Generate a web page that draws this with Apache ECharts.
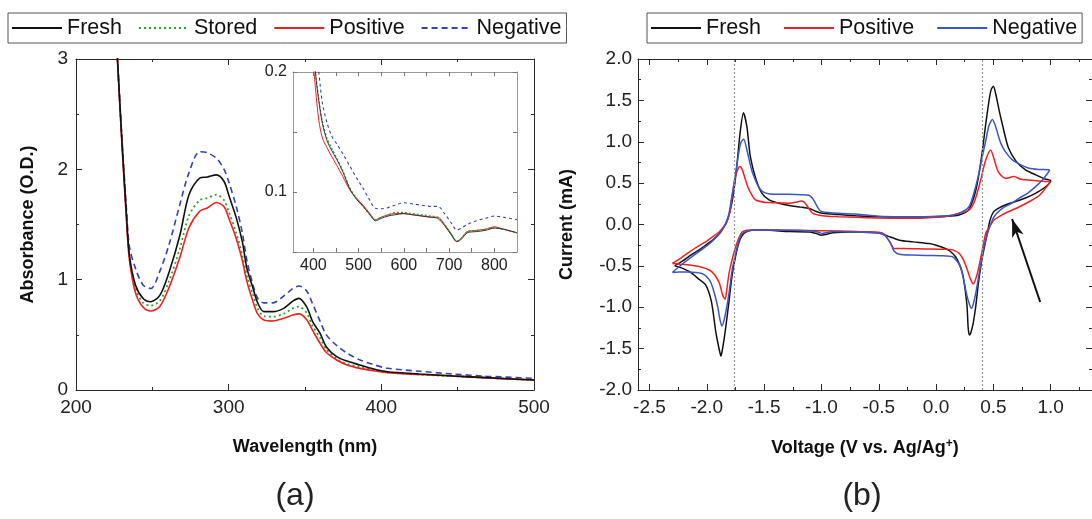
<!DOCTYPE html>
<html><head><meta charset="utf-8">
<script src="https://cdn.jsdelivr.net/npm/echarts@6/dist/echarts.min.js"></script>
<style>html,body{margin:0;padding:0;background:#fff}#c{width:1092px;height:519px}</style>
</head><body><div id="c"></div>
<script>
// ---------- Panel (a): UV-vis absorbance ----------
const wavelength = [227,230,233,235,239,244,249,255,261,268,274,281,286,292,297,300,305,309,312,316,319,323,329,336,342,346,351,355,360,364,371,378,386,395,404,425,447,469,500];
const absFresh    = [3.04,2.28,1.60,1.22,0.95,0.83,0.80,0.86,1.07,1.40,1.77,1.92,1.93,1.95,1.89,1.77,1.56,1.34,1.10,0.92,0.79,0.71,0.71,0.74,0.805,0.83,0.755,0.62,0.51,0.39,0.30,0.26,0.227,0.19,0.166,0.145,0.127,0.112,0.09];
const absStored   = [3.04,2.28,1.60,1.20,0.92,0.79,0.765,0.81,0.99,1.28,1.58,1.72,1.74,1.77,1.72,1.62,1.42,1.22,1.03,0.86,0.74,0.67,0.665,0.69,0.74,0.755,0.70,0.58,0.47,0.37,0.28,0.235,0.21,0.18,0.16,0.14,0.125,0.11,0.09];
const absPositive = [3.04,2.25,1.55,1.18,0.88,0.75,0.716,0.76,0.93,1.20,1.47,1.62,1.65,1.70,1.66,1.56,1.37,1.17,0.98,0.80,0.69,0.635,0.626,0.65,0.68,0.69,0.64,0.54,0.42,0.34,0.27,0.225,0.196,0.175,0.157,0.14,0.127,0.11,0.09];
const absNegative = [3.04,2.30,1.65,1.30,1.10,0.95,0.92,1.08,1.32,1.68,1.97,2.16,2.15,2.10,2.00,1.89,1.66,1.42,1.17,0.95,0.83,0.79,0.79,0.85,0.92,0.943,0.90,0.78,0.62,0.50,0.40,0.33,0.272,0.23,0.197,0.17,0.145,0.125,0.106];

// inset (zoomed 355-850 nm)
const insetWl = [398,405,412,420,430,440,452,465,480,495,510,525,537,550,565,580,600,620,640,660,675,690,705,717,728,740,760,780,800,820,850];
const inFresh    = [0.24,0.198,0.176,0.157,0.143,0.135,0.127,0.117,0.103,0.094,0.088,0.081,0.076,0.078,0.080,0.081,0.082,0.081,0.080,0.079,0.078,0.072,0.064,0.0586,0.061,0.066,0.067,0.068,0.070,0.069,0.066];
const inStored   = [0.245,0.20,0.178,0.159,0.145,0.137,0.128,0.118,0.104,0.095,0.088,0.081,0.077,0.079,0.081,0.083,0.083,0.082,0.081,0.080,0.079,0.073,0.065,0.059,0.062,0.067,0.068,0.069,0.070,0.069,0.066];
const inPositive = [0.215,0.185,0.16,0.145,0.137,0.13,0.122,0.113,0.102,0.095,0.089,0.082,0.077,0.079,0.081,0.082,0.082,0.081,0.080,0.079,0.079,0.073,0.065,0.059,0.062,0.067,0.068,0.069,0.071,0.069,0.066];
const inNegative = [0.26,0.225,0.20,0.174,0.158,0.147,0.14,0.132,0.122,0.112,0.103,0.093,0.0864,0.086,0.087,0.089,0.091,0.090,0.089,0.088,0.088,0.082,0.074,0.0683,0.070,0.073,0.076,0.078,0.080,0.079,0.077];

// ---------- Panel (b): cyclic voltammetry ----------
const freshV = [-2.28,-2.21,-2.15,-2.06,-2.00,-1.95,-1.89,-1.86,-1.83,-1.80,-1.77,-1.74,-1.71,-1.68,-1.65,-1.62,-1.57,-1.52,-1.46,-1.38,-1.28,-1.18,-1.10,-1.05,-0.99,-0.85,-0.70,-0.50,-0.30,-0.10,0.10,0.20,0.26,0.29,0.33,0.36,0.40,0.43,0.46,0.48,0.50,0.52,0.55,0.58,0.63,0.70,0.78,0.87,0.95,1.00,
  0.95,0.87,0.78,0.70,0.62,0.55,0.50,0.47,0.44,0.40,0.37,0.345,0.32,0.30,0.29,0.28,0.27,0.25,0.23,0.20,0.17,0.12,0.08,0.00,-0.06,-0.20,-0.32,-0.42,-0.50,-0.60,-0.75,-0.90,-0.96,-1.00,-1.04,-1.10,-1.28,-1.45,-1.57,-1.64,-1.69,-1.72,-1.75,-1.78,-1.81,-1.84,-1.865,-1.876,-1.89,-1.92,-1.96,-2.01,-2.07,-2.14,-2.21,-2.28];
const freshI = [-0.50,-0.44,-0.38,-0.30,-0.24,-0.19,-0.11,-0.05,0.02,0.15,0.35,0.68,1.10,1.35,1.18,0.82,0.54,0.38,0.30,0.26,0.23,0.21,0.19,0.16,0.135,0.12,0.107,0.094,0.09,0.092,0.10,0.115,0.15,0.19,0.33,0.50,0.85,1.18,1.48,1.63,1.67,1.58,1.38,1.20,0.93,0.76,0.66,0.60,0.55,0.53,
  0.45,0.38,0.32,0.28,0.245,0.20,0.15,0.05,-0.15,-0.42,-0.70,-1.00,-1.22,-1.32,-1.335,-1.25,-0.99,-0.75,-0.59,-0.47,-0.39,-0.32,-0.29,-0.25,-0.23,-0.21,-0.19,-0.14,-0.10,-0.09,-0.09,-0.10,-0.12,-0.13,-0.11,-0.09,-0.085,-0.07,-0.066,-0.08,-0.13,-0.22,-0.39,-0.62,-0.97,-1.30,-1.52,-1.59,-1.52,-1.31,-0.93,-0.73,-0.66,-0.58,-0.53,-0.50];

const positiveV = [-2.30,-2.22,-2.15,-2.06,-2.00,-1.95,-1.89,-1.86,-1.83,-1.80,-1.775,-1.75,-1.725,-1.71,-1.69,-1.643,-1.60,-1.574,-1.50,-1.43,-1.35,-1.284,-1.22,-1.18,-1.15,-1.12,-1.075,-0.99,-0.85,-0.70,-0.50,-0.30,-0.10,0.10,0.20,0.287,0.33,0.374,0.40,0.433,0.476,0.50,0.53,0.55,0.607,0.68,0.74,0.87,0.95,0.993,
  0.95,0.90,0.839,0.75,0.665,0.58,0.505,0.47,0.433,0.40,0.374,0.35,0.325,0.30,0.273,0.24,0.20,0.15,0.084,-0.10,-0.30,-0.366,-0.40,-0.45,-0.50,-0.70,-0.993,-1.30,-1.574,-1.65,-1.69,-1.72,-1.748,-1.78,-1.806,-1.825,-1.84,-1.86,-1.89,-1.93,-1.977,-2.06,-2.152,-2.23,-2.30];
const positiveI = [-0.47,-0.40,-0.33,-0.25,-0.20,-0.15,-0.087,-0.04,0.015,0.14,0.377,0.58,0.68,0.70,0.66,0.457,0.34,0.296,0.27,0.264,0.26,0.256,0.27,0.284,0.27,0.215,0.135,0.107,0.095,0.087,0.078,0.075,0.08,0.10,0.135,0.175,0.26,0.457,0.60,0.78,0.90,0.82,0.68,0.62,0.558,0.58,0.546,0.53,0.52,0.518,
  0.43,0.35,0.296,0.23,0.175,0.12,0.054,-0.02,-0.107,-0.33,-0.51,-0.64,-0.72,-0.66,-0.55,-0.43,-0.348,-0.31,-0.30,-0.295,-0.29,-0.29,-0.22,-0.12,-0.095,-0.085,-0.075,-0.068,-0.062,-0.07,-0.087,-0.16,-0.268,-0.43,-0.59,-0.78,-0.904,-0.86,-0.71,-0.61,-0.55,-0.51,-0.49,-0.48,-0.47];

const negativeV = [-2.30,-2.25,-2.15,-2.06,-2.00,-1.95,-1.90,-1.864,-1.83,-1.806,-1.78,-1.748,-1.72,-1.70,-1.678,-1.65,-1.62,-1.60,-1.55,-1.513,-1.45,-1.284,-1.18,-1.11,-1.08,-1.052,-1.02,-0.993,-0.85,-0.70,-0.50,-0.30,-0.10,0.10,0.20,0.287,0.33,0.374,0.40,0.433,0.46,0.491,0.52,0.55,0.578,0.62,0.665,0.74,0.81,0.90,0.99,
  0.93,0.868,0.80,0.723,0.65,0.578,0.52,0.491,0.455,0.418,0.38,0.346,0.325,0.308,0.29,0.264,0.24,0.21,0.17,0.142,0.05,-0.061,-0.20,-0.322,-0.366,-0.40,-0.45,-0.497,-0.70,-0.90,-0.96,-0.993,-1.03,-1.10,-1.30,-1.574,-1.65,-1.69,-1.72,-1.748,-1.78,-1.806,-1.84,-1.868,-1.885,-1.905,-1.94,-1.977,-2.03,-2.093,-2.17,-2.24,-2.30];
const negativeI = [-0.58,-0.52,-0.41,-0.32,-0.26,-0.20,-0.13,-0.066,0.03,0.135,0.35,0.62,0.88,1.00,1.03,0.90,0.72,0.62,0.46,0.397,0.37,0.365,0.36,0.353,0.32,0.256,0.18,0.155,0.135,0.127,0.10,0.095,0.095,0.105,0.135,0.215,0.38,0.62,0.80,1.01,1.19,1.27,1.18,1.04,0.94,0.85,0.78,0.72,0.68,0.665,0.659,
  0.54,0.457,0.38,0.317,0.25,0.196,0.12,0.054,-0.08,-0.268,-0.56,-0.83,-0.96,-1.013,-0.96,-0.83,-0.66,-0.50,-0.42,-0.389,-0.378,-0.375,-0.37,-0.36,-0.32,-0.22,-0.13,-0.107,-0.09,-0.085,-0.10,-0.11,-0.09,-0.075,-0.07,-0.066,-0.08,-0.107,-0.20,-0.349,-0.56,-0.83,-1.10,-1.227,-1.15,-0.993,-0.80,-0.67,-0.60,-0.58,-0.575,-0.575,-0.58];

const refPotentials = [-1.76, 0.40];
const arrowTail = [0.908, -0.937];
const arrowTip = [0.663, 0.066];

const xMajorB = [-2.5,-2.0,-1.5,-1.0,-0.5,0.0,0.5,1.0];
const xMinorB = [-2.25,-1.75,-1.25,-0.75,-0.25,0.25,0.75,1.25];
const insetLabels = [400,500,600,700,800];
const insetTicks = [400,450,500,550,600,650,700,750,800];

// ---------- build ----------
const zip = (xs, ys) => xs.map((x, i) => [x, ys[i]]);
const FONT = 'Liberation Sans';
const AX = '#2a2a2a';
const C = {black:'#111111', red:'#f02020', green:'#2ca02c', blueUV:'#3343b0', blueCV:'#3b57c6'};

const lineAxis = (extra) => {
  const base = {
    axisLine: {show: true, onZero: false, lineStyle: {color: AX, width: 1}},
    axisTick: {show: true, inside: true, length: 6, lineStyle: {color: AX}},
    splitLine: {show: false},
    axisLabel: {color: '#222', fontSize: 19, fontFamily: FONT, margin: 8},
    nameTextStyle: {color: '#111', fontSize: 18, fontWeight: 'bold', fontFamily: FONT}
  };
  const o = Object.assign(base, extra);
  o.axisLine = Object.assign({onZero: false}, o.axisLine);
  return o;
};

const grids = [
  {left: 76, top: 59, width: 458, height: 331, outerBoundsMode: 'none'},
  {left: 293, top: 72, width: 224, height: 180, outerBoundsMode: 'none'},
  {left: 638, top: 59, width: 454, height: 331, outerBoundsMode: 'none'}
];

const xAxes = [
  lineAxis({gridIndex: 0, type: 'value', min: 200, max: 500, interval: 100, position: 'bottom',
    minorTick: {show: true, splitNumber: 2, length: 3, lineStyle: {color: AX}},
    name: 'Wavelength (nm)', nameLocation: 'middle', nameGap: 48}),
  lineAxis({gridIndex: 0, type: 'value', min: 200, max: 500, interval: 100, position: 'top',
    axisLabel: {show: false}, minorTick: {show: true, splitNumber: 2, length: 3, lineStyle: {color: AX}}}),
  lineAxis({gridIndex: 1, type: 'value', min: 355, max: 850, position: 'bottom',
    axisLine: {show: true, lineStyle: {color: '#9a9a9a'}},
    axisTick: {show: true, inside: true, length: 4, customValues: insetTicks, lineStyle: {color: '#777'}},
    axisLabel: {color: '#222', fontSize: 16, fontFamily: FONT, margin: 6, customValues: insetLabels}}),
  lineAxis({gridIndex: 1, type: 'value', min: 355, max: 850, position: 'top',
    axisLine: {show: true, lineStyle: {color: '#9a9a9a'}},
    axisTick: {show: true, inside: true, length: 4, customValues: insetTicks, lineStyle: {color: '#777'}},
    axisLabel: {show: false}}),
  lineAxis({gridIndex: 2, type: 'value', min: -2.6, max: 1.36, position: 'bottom',
    axisTick: {show: true, inside: true, length: 6, customValues: xMajorB, lineStyle: {color: AX}},
    axisLabel: {color: '#222', fontSize: 19, fontFamily: FONT, margin: 8, customValues: xMajorB, formatter: v => v.toFixed(1)},
    name: 'Voltage (V vs. Ag/Ag{sup|+})', nameLocation: 'middle', nameGap: 48,
    nameTextStyle: {color: '#111', fontSize: 18, fontWeight: 'bold', fontFamily: FONT,
      rich: {sup: {fontSize: 12, fontWeight: 'bold', fontFamily: FONT, color: '#111', verticalAlign: 'top', padding: [0, 0, 8, 0]}}}}),
  lineAxis({gridIndex: 2, type: 'value', min: -2.6, max: 1.36, position: 'bottom',
    axisLine: {show: false},
    axisTick: {show: true, inside: true, length: 3, customValues: xMinorB, lineStyle: {color: AX}},
    axisLabel: {show: false}}),
  lineAxis({gridIndex: 2, type: 'value', min: -2.6, max: 1.36, position: 'top',
    axisTick: {show: true, inside: true, length: 6, customValues: xMajorB, lineStyle: {color: AX}},
    axisLabel: {show: false}}),
  lineAxis({gridIndex: 2, type: 'value', min: -2.6, max: 1.36, position: 'top',
    axisLine: {show: false},
    axisTick: {show: true, inside: true, length: 3, customValues: xMinorB, lineStyle: {color: AX}},
    axisLabel: {show: false}})
];

const yAxes = [
  lineAxis({gridIndex: 0, type: 'value', min: 0, max: 3, interval: 1, position: 'left',
    minorTick: {show: true, splitNumber: 2, length: 3, lineStyle: {color: AX}},
    name: 'Absorbance (O.D.)', nameLocation: 'middle', nameGap: 39}),
  lineAxis({gridIndex: 0, type: 'value', min: 0, max: 3, interval: 1, position: 'right',
    axisLabel: {show: false}, minorTick: {show: true, splitNumber: 2, length: 3, lineStyle: {color: AX}}}),
  lineAxis({gridIndex: 1, type: 'value', min: 0.05, max: 0.2, interval: 0.05, position: 'left',
    axisLine: {show: true, lineStyle: {color: '#9a9a9a'}},
    axisTick: {show: true, inside: true, length: 4, lineStyle: {color: '#777'}},
    axisLabel: {color: '#222', fontSize: 16, fontFamily: FONT, margin: 6,
      formatter: v => (Math.abs(v - 0.1) < 1e-6 ? '0.1' : (Math.abs(v - 0.2) < 1e-6 ? '0.2' : ''))}}),
  lineAxis({gridIndex: 1, type: 'value', min: 0.05, max: 0.2, interval: 0.05, position: 'right',
    axisLine: {show: true, lineStyle: {color: '#9a9a9a'}},
    axisTick: {show: true, inside: true, length: 4, lineStyle: {color: '#777'}},
    axisLabel: {show: false}}),
  lineAxis({gridIndex: 2, type: 'value', min: -2, max: 2, interval: 0.5, position: 'left',
    minorTick: {show: true, splitNumber: 2, length: 3, lineStyle: {color: AX}},
    axisLabel: {color: '#222', fontSize: 19, fontFamily: FONT, margin: 6, formatter: v => v.toFixed(1)},
    name: 'Current (mA)', nameLocation: 'middle', nameGap: 62}),
  lineAxis({gridIndex: 2, type: 'value', min: -2, max: 2, interval: 0.5, position: 'right',
    axisLine: {show: false}, axisLabel: {show: false},
    minorTick: {show: true, splitNumber: 2, length: 3, lineStyle: {color: AX}}})
];

const uv = (name, ys, color, type, width, xi, yi, z) => ({
  name, type: 'line', xAxisIndex: xi, yAxisIndex: yi, data: zip(xi === 0 ? wavelength : insetWl, ys),
  symbol: 'none', smooth: 0.3, clip: true, z: z || 2,
  lineStyle: {color, type, width}, itemStyle: {color}
});
const cv = (name, vs, is, color) => ({
  name, type: 'line', xAxisIndex: 4, yAxisIndex: 4, data: zip(vs, is),
  symbol: 'none', smooth: 0.25, clip: true,
  lineStyle: {color, width: 1.5}, itemStyle: {color}
});

const series = [
  uv('Fresh', absFresh, C.black, 'solid', 1.6, 0, 0, 4),
  uv('Stored', absStored, C.green, [2, 3], 1.8, 0, 0, 3),
  uv('Positive', absPositive, C.red, 'solid', 1.6, 0, 0, 3),
  uv('Negative', absNegative, C.blueUV, [6, 4], 1.6, 0, 0, 3),
  uv('in-Negative', inNegative, C.blueUV, [3, 3], 1.1, 2, 2),
  uv('in-Positive', inPositive, C.red, 'solid', 1.0, 2, 2),
  uv('in-Stored', inStored, C.green, [2, 2], 1.1, 2, 2),
  uv('in-Fresh', inFresh, '#333', 'solid', 1.0, 2, 2),
  cv('CV Fresh', freshV, freshI, C.black),
  cv('CV Positive', positiveV, positiveI, C.red),
  cv('CV Negative', negativeV, negativeI, C.blueCV)
];
series[8].markLine = {
  silent: true, symbol: 'none', animation: false,
  label: {show: false}, lineStyle: {type: [2, 2], color: '#999', width: 1.2},
  data: refPotentials.map(v => ({xAxis: v}))
};
series[10].markLine = {
  silent: true, animation: false, symbolSize: [9, 18],
  label: {show: false}, lineStyle: {type: 'solid', color: '#111', width: 2},
  data: [[{coord: arrowTail, symbol: 'none'}, {coord: arrowTip, symbol: 'arrow'}]]
};

const legendBase = {
  orient: 'horizontal', itemWidth: 50, itemHeight: 14,
  itemStyle: {opacity: 0, borderWidth: 0},
  backgroundColor: '#fff', borderColor: '#555', borderWidth: 1, borderRadius: 0,
  textStyle: {fontSize: 21.5, color: '#111', fontFamily: FONT}, selectedMode: false
};

const option = {
  animation: false,
  backgroundColor: '#fff',
  textStyle: {fontFamily: FONT},
  grid: grids,
  xAxis: xAxes,
  yAxis: yAxes,
  legend: [
    Object.assign({}, legendBase, {left: 8, top: 13, itemGap: 16, padding: [4, 5, 4, 3],
      data: ['Fresh', 'Stored', 'Positive', 'Negative']}),
    Object.assign({}, legendBase, {left: 647, top: 13, itemGap: 22, padding: [4, 5, 4, 3],
      data: ['CV Fresh', 'CV Positive', 'CV Negative'], formatter: n => n.replace('CV ', '')})
  ],
  graphic: [
    {type: 'text', x: 295, y: 480, style: {text: '(a)', fontSize: 32, fontFamily: FONT, fill: '#222', align: 'center', verticalAlign: 'top'}},
    {type: 'text', x: 862, y: 480, style: {text: '(b)', fontSize: 32, fontFamily: FONT, fill: '#222', align: 'center', verticalAlign: 'top'}}
  ],
  series
};

const chart = echarts.init(document.getElementById('c'), null, {renderer: 'canvas'});
chart.setOption(option);
</script></body></html>
